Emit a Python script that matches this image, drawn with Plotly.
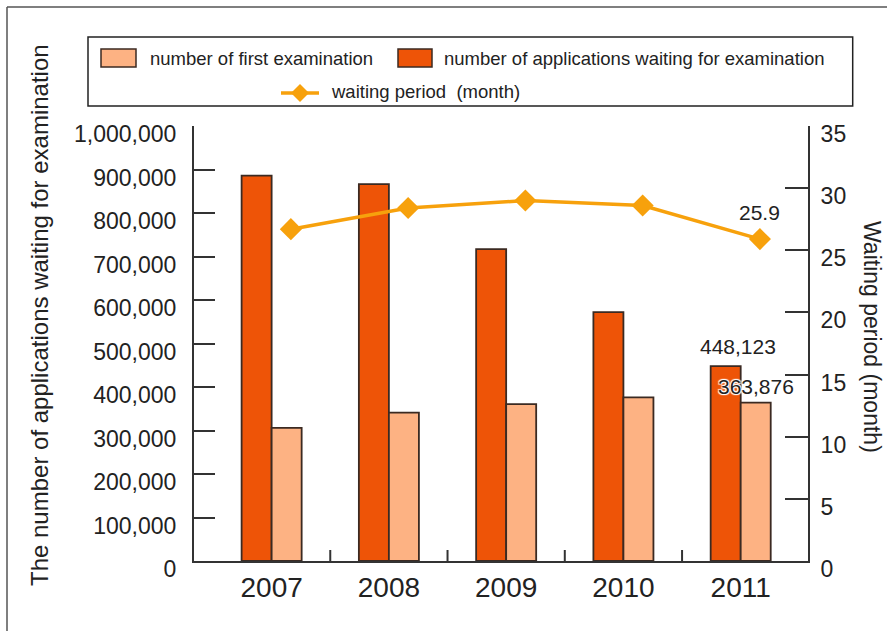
import plotly.graph_objects as go

# data
years = ["2007", "2008", "2009", "2010", "2011"]
waiting_apps = [885700, 866600, 717000, 572000, 448123]
first_exam = [306000, 341000, 360500, 376000, 363876]
waiting_months = [26.7, 28.4, 29.0, 28.6, 25.9]

DARK = "#EE5407"
LIGHT = "#FDB283"
LINE = "#F7A10C"
EDGE = "#3B2A22"
AX = "#333333"
FONT = "Liberation Sans, Arial, sans-serif"

W, H = 887, 631
L, R, T, B = 194, 79, 126, 70


# pixel -> paper helpers for the decoration (frame, legend box)
def px(x):
    return (x - L) / (W - L - R)


def py(y):
    return (H - B - y) / (H - T - B)


fig = go.Figure()

fig.add_trace(go.Bar(x=years, y=waiting_apps, marker_color=DARK,
                     marker_line=dict(color=EDGE, width=1.8),
                     name="number of applications waiting for examination",
                     showlegend=False))
fig.add_trace(go.Bar(x=years, y=first_exam, marker_color=LIGHT,
                     marker_line=dict(color=EDGE, width=1.8),
                     name="number of first examination", showlegend=False))
fig.add_trace(go.Scatter(x=years, y=waiting_months, mode="lines+markers",
                         line=dict(color=LINE, width=3.5),
                         marker=dict(symbol="diamond", size=17, color=LINE),
                         xaxis="x2", yaxis="y2", showlegend=False,
                         name="waiting period (month)"))

xr = [-0.662, 4.574]
shift = 0.164

fig.update_layout(
    width=W, height=H,
    margin=dict(l=L, r=R, t=T, b=B),
    paper_bgcolor="white", plot_bgcolor="white",
    font=dict(family=FONT, color="#222"),
    barmode="group", bargap=0.488, bargroupgap=0,
    xaxis=dict(type="category", range=xr, showline=True, linewidth=2,
               linecolor=AX, ticks="", showgrid=False,
               tickfont=dict(size=28), ticklabelstandoff=0),
    xaxis2=dict(type="category", overlaying="x", range=[xr[0] - shift, xr[1] - shift],
                visible=False, categoryarray=years),
    yaxis=dict(range=[0, 1000000], tickvals=list(range(0, 1000001, 100000)),
               tickformat=",", ticks="inside", ticklen=21, tickwidth=2,
               tickcolor=AX, showline=True, linewidth=2, linecolor=AX,
               showgrid=False, zeroline=False, tickfont=dict(size=23),
               ticklabelstandoff=11, ticklabelshift=8),
    yaxis2=dict(range=[0, 35], dtick=5, overlaying="y", side="right",
                ticks="inside", ticklen=23, tickwidth=2, tickcolor=AX,
                showline=True, linewidth=2, linecolor=AX, showgrid=False,
                zeroline=False, tickfont=dict(size=23),
                ticklabelstandoff=6, ticklabelshift=8),
)

# category dividers on the baseline
for i in range(len(years) - 1):
    fig.add_shape(type="line", xref="x", yref="paper", x0=i + 0.5, x1=i + 0.5,
                  y0=0, y1=11 / (H - T - B), line=dict(color=AX, width=2))

# outer frame (top and left edges)
fig.add_shape(type="line", xref="paper", yref="paper", x0=px(7), x1=px(W + 5),
              y0=py(7), y1=py(7), line=dict(color="#555", width=1.5))
fig.add_shape(type="line", xref="paper", yref="paper", x0=px(7), x1=px(7),
              y0=py(7), y1=py(H + 5), line=dict(color="#555", width=1.5))

# legend box
fig.add_shape(type="rect", xref="paper", yref="paper", x0=px(88), x1=px(852.7),
              y0=py(37), y1=py(106), line=dict(color="#222", width=1.5),
              fillcolor="white")
fig.add_shape(type="rect", xref="paper", yref="paper", x0=px(101), x1=px(136),
              y0=py(49), y1=py(67), line=dict(color=EDGE, width=1.5),
              fillcolor=LIGHT)
fig.add_shape(type="rect", xref="paper", yref="paper", x0=px(398), x1=px(432),
              y0=py(49), y1=py(67), line=dict(color=EDGE, width=1.5),
              fillcolor=DARK)
fig.add_shape(type="line", xref="paper", yref="paper", x0=px(281), x1=px(319),
              y0=py(93), y1=py(93), line=dict(color=LINE, width=3.5))
fig.add_shape(type="path", xref="paper", yref="paper",
              path="M {} {} L {} {} L {} {} L {} {} Z".format(
                  px(300), py(84), px(309), py(93), px(300), py(102), px(291), py(93)),
              line=dict(color=LINE, width=0), fillcolor=LINE)

legend_items = [
    ("number of first examination", 148, 58),
    ("number of applications waiting for examination", 442, 58),
    ("waiting period  (month)", 329, 91),
]
for txt, lx, ly in legend_items:
    fig.add_annotation(text=txt, xref="paper", yref="paper", x=px(lx), y=py(ly),
                       xanchor="left", yanchor="middle", showarrow=False,
                       font=dict(size=18.5, color="#222"))

# axis titles
fig.add_annotation(text="The number of applications waiting for examination",
                   xref="paper", yref="paper", x=px(39), y=py(315),
                   xanchor="center", yanchor="middle",
                   textangle=-90, showarrow=False, font=dict(size=24, color="#222"))
fig.add_annotation(text="Waiting period (month)", xref="paper", yref="paper",
                   x=px(872), y=py(337), xanchor="center", yanchor="middle",
                   textangle=90, showarrow=False,
                   font=dict(size=23, color="#222"))

# value labels for 2011 (category index of the last year)
last = len(years) - 1
fig.add_annotation(text=f"{waiting_apps[-1]:,}", x=last, y=waiting_apps[-1],
                   xref="x", yref="y", xanchor="center", yanchor="bottom",
                   xshift=-3, yshift=6,
                   showarrow=False, font=dict(size=21, color="#222"))
fig.add_annotation(text=f"{first_exam[-1]:,}", x=last, y=first_exam[-1],
                   xref="x", yref="y", xanchor="center", yanchor="bottom",
                   xshift=15, yshift=3,
                   showarrow=False,
                   font=dict(size=21, color="#222",
                             shadow="1px 1px 1px white, -1px -1px 1px white, "
                                    "1px -1px 1px white, -1px 1px 1px white"))
fig.add_annotation(text=f"{waiting_months[-1]}", x=last, y=waiting_months[-1],
                   xref="x2", yref="y2", xanchor="center", yanchor="bottom",
                   yshift=13, showarrow=False, font=dict(size=21, color="#222"))

fig.write_html("out.html", config={"displayModeBar": False},
               post_script="document.body.style.margin='0px';")
